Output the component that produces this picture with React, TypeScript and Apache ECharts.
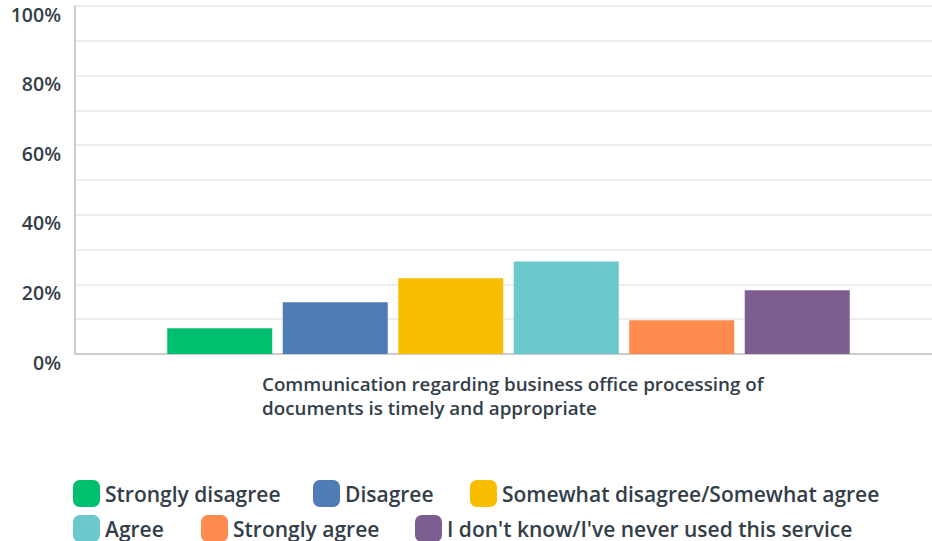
import React, { useEffect, useRef } from "react";
import * as echarts from "echarts";

const categories = ["Communication regarding business office processing of\ndocuments is timely and appropriate"];
const seriesNames = [
  "Strongly disagree",
  "Disagree",
  "Somewhat disagree/Somewhat agree",
  "Agree",
  "Strongly agree",
  "I don't know/I've never used this service",
];
const seriesValues = [7.4, 14.9, 21.8, 26.6, 9.7, 18.3];
const seriesColors = ["#00bf6f", "#507cb6", "#f9be00", "#6bc8cd", "#ff8b4f", "#7d5e90"];
const legendLeft = [73, 313, 470, 73, 201, 415];
const legendTop = [480, 480, 480, 515, 515, 515];

const TEXT = "#333e48";
const FONT = "'Open Sans', sans-serif";

export default function App() {
  const ref = useRef<HTMLDivElement>(null);
  useEffect(() => {
    if (!ref.current) return;
    const chart = echarts.init(ref.current, null, { renderer: "svg" });
    chart.setOption({
      animation: false,
      textStyle: { fontFamily: FONT },
      grid: { left: 75, right: 0, top: 6, bottom: 187, containLabel: false },
      legend: seriesNames.map((name, i) => ({
        left: legendLeft[i],
        top: legendTop[i],
        padding: 0,
        itemWidth: 27,
        itemHeight: 27,
        icon: "roundRect",
        selectedMode: false,
        textStyle: { color: TEXT, fontSize: 21, fontWeight: 600, fontFamily: FONT, padding: [0, 0, 4, 0] },
        data: [name],
      })),
      xAxis: {
        type: "category",
        data: categories,
        axisLine: { show: true, lineStyle: { color: "#cccccc", width: 2 } },
        axisTick: { show: false },
        axisLabel: {
          margin: 18,
          color: TEXT,
          fontSize: 18.8,
          fontWeight: 600,
          fontFamily: FONT,
          formatter: (v: string) =>
            v
              .split("\n")
              .map((l) => "{a|" + l + "}")
              .join("\n"),
          rich: {
            a: {
              width: 493,
              overflow: "none",
              align: "left",
              color: TEXT,
              fontSize: 18.8,
              fontWeight: 600,
              fontFamily: FONT,
              lineHeight: 24,
            },
          },
        },
      },
      yAxis: {
        type: "value",
        min: 0,
        max: 100,
        interval: 10,
        axisLine: { show: true, lineStyle: { color: "#d0d0d0", width: 2 } },
        axisTick: { show: false },
        splitLine: { show: true, lineStyle: { color: "#eeeeee", width: 2 } },
        axisLabel: {
          margin: 14,
          color: TEXT,
          fontSize: 19.5,
          fontWeight: 600,
          fontFamily: FONT,
          verticalAlign: "top",
          lineHeight: 16,
          formatter: (v: number) => (v % 20 === 0 ? v + "%" : ""),
        },
      },
      series: seriesNames.map((name, i) => ({
        name,
        type: "bar",
        barWidth: 105,
        barGap: "10%",
        itemStyle: { color: seriesColors[i] },
        data: [seriesValues[i]],
      })),
    });
    return () => chart.dispose();
  }, []);
  return (
    <div
      style={{
        position: "fixed",
        left: 0,
        top: 0,
        width: 932,
        height: 541,
        overflow: "hidden",
        background: "#fff",
      }}
    >
      <div ref={ref} style={{ width: 942, height: 541 }} />
    </div>
  );
}
